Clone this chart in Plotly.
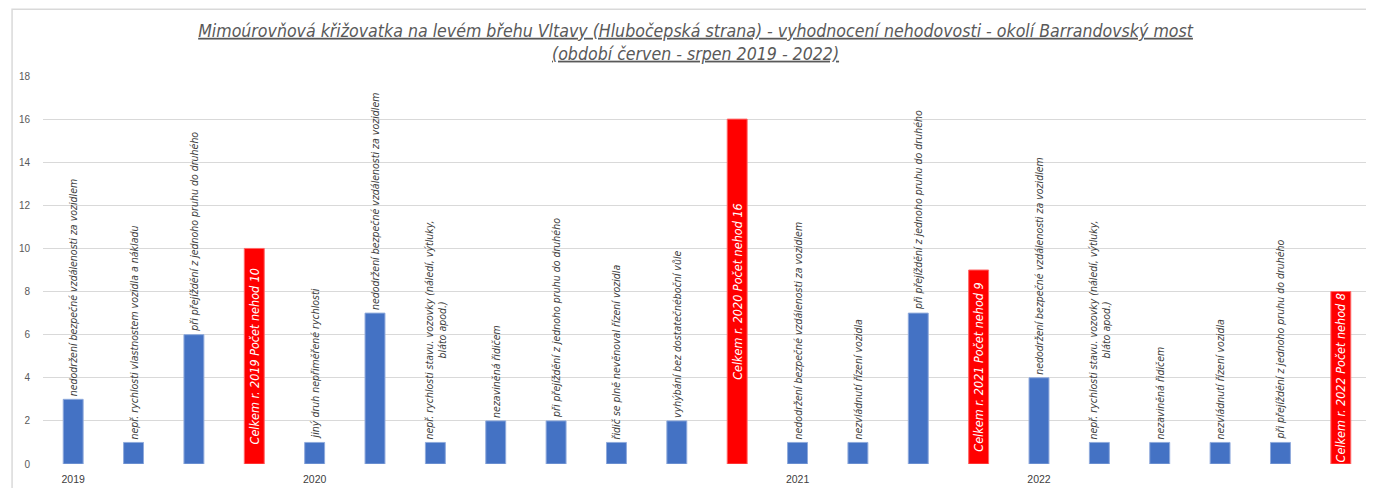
import plotly.graph_objects as go

labels = [
    "nedodržení bezpečné vzdálenosti za vozidlem",
    "nepř. rychlosti vlastnostem vozidla a nákladu",
    "při přejíždění z jednoho pruhu do druhého",
    "Celkem r. 2019 Počet nehod 10",
    "jiný druh nepřiměřené rychlosti",
    "nedodržení bezpečné vzdálenosti za vozidlem",
    "nepř. rychlosti stavu. vozovky (náledí, výtluky,<br>bláto apod.)",
    "nezaviněná řidičem",
    "při přejíždění z jednoho pruhu do druhého",
    "řidič se plně nevěnoval řízení vozidla",
    "vyhýbání bez dostatečnéboční vůle",
    "Celkem r. 2020 Počet nehod 16",
    "nedodržení bezpečné vzdálenosti za vozidlem",
    "nezvládnutí řízení vozidla",
    "při přejíždění z jednoho pruhu do druhého",
    "Celkem r. 2021 Počet nehod 9",
    "nedodržení bezpečné vzdálenosti za vozidlem",
    "nepř. rychlosti stavu. vozovky (náledí, výtluky,<br>bláto apod.)",
    "nezaviněná řidičem",
    "nezvládnutí řízení vozidla",
    "při přejíždění z jednoho pruhu do druhého",
    "Celkem r. 2022 Počet nehod 8",
]
values = [3, 1, 6, 10, 1, 7, 1, 2, 2, 1, 2, 16, 1, 1, 7, 9, 4, 1, 1, 1, 1, 8]
is_total = [False, False, False, True, False, False, False, False, False, False, False, True,
            False, False, False, True, False, False, False, False, False, True]
year_ticks = [0, 4, 12, 16]
year_labels = ["2019", "2020", "2021", "2022"]
y_ticks = list(range(0, 19, 2))

positions = list(range(len(labels)))

bx = [p for p, t in zip(positions, is_total) if not t]
by = [v for v, t in zip(values, is_total) if not t]
bt = [l for l, t in zip(labels, is_total) if not t]
rx = [p for p, t in zip(positions, is_total) if t]
ry = [v for v, t in zip(values, is_total) if t]
rt = [l for l, t in zip(labels, is_total) if t]

FONT = "Liberation Sans Narrow, DejaVu Sans Condensed, Liberation Sans, sans-serif"

fig = go.Figure()
fig.add_trace(go.Bar(
    x=bx, y=by, text=bt, width=0.33,
    marker=dict(color="#4472C4", line=dict(color="#8FAADC", width=1)),
    textposition="outside", textangle=-90, constraintext="none", cliponaxis=False,
    outsidetextfont=dict(family=FONT, size=10.5, color="#404040", style="italic"),
    hoverinfo="skip",
))
fig.add_trace(go.Bar(
    x=rx, y=ry, text=rt, width=0.33,
    marker=dict(color="#FF0000", line=dict(color="#FF6666", width=1)),
    textposition="inside", insidetextanchor="middle", textangle=-90, constraintext="none",
    insidetextfont=dict(family=FONT, size=12.5, color="#FFFFFF", style="italic"),
    hoverinfo="skip",
))

title_text = ('<span style="text-decoration:underline">Mimoúrovňová křižovatka na levém břehu Vltavy '
              '(Hlubočepská strana) - vyhodnocení nehodovosti - okolí Barrandovský most</span><br>'
              '<span style="text-decoration:underline">(období červen - srpen 2019 - 2022)</span>')

fig.update_layout(
    width=1374, height=488,
    margin=dict(l=32, r=11, t=68, b=31),
    paper_bgcolor="white", plot_bgcolor="white",
    barmode="overlay", showlegend=False,
    title=dict(text=title_text, x=0.5004, xanchor="center", y=0.941, yanchor="top",
               font=dict(family=FONT, size=17.6, color="#595959", style="italic")),
    xaxis=dict(range=[-0.5, 21.5], tickmode="array", tickvals=year_ticks, ticktext=year_labels,
               showgrid=False, zeroline=False, showline=False, ticks="",
               tickfont=dict(family="Liberation Sans, sans-serif", size=10.5, color="#404040"),
               ticklabelstandoff=7),
    yaxis=dict(range=[0, 18], tickmode="array", tickvals=y_ticks, showgrid=True,
               gridcolor="#D9D9D9", gridwidth=1, zeroline=False, showline=False, ticks="",
               tickfont=dict(family="Liberation Sans, sans-serif", size=10, color="#595959"),
               ticklabelstandoff=12),
    shapes=[dict(type="rect", xref="paper", yref="paper",
                 x0=-31 / 1331, x1=1 + 40 / 1331, y0=-60 / 389, y1=1 + 67 / 389,
                 line=dict(color="#D9D9D9", width=1.5), fillcolor="rgba(0,0,0,0)", layer="below")],
)

fig.write_html("out.html")
